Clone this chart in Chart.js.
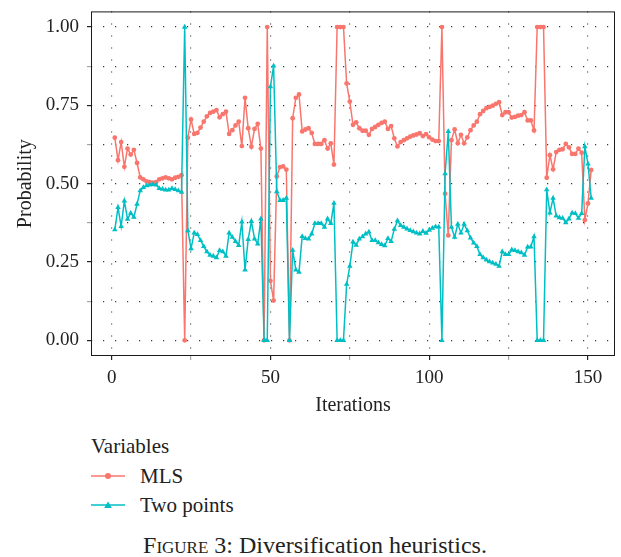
<!DOCTYPE html>
<html>
<head>
<meta charset="utf-8">
<script src="https://cdn.jsdelivr.net/npm/chart.js@4.4.1/dist/chart.umd.min.js"></script>
<style>
  body { margin: 0; background: #fff; }
  #wrap { position: relative; width: 621px; height: 557px; overflow: hidden; font-family: "Liberation Serif", "DejaVu Serif", serif; color: #222; }
  #chart { position: absolute; left: 0; top: -8px; }
  .legend-title { position: absolute; left: 91px; top: 434px; font-size: 21px; line-height: 24px; }
  .legend-row { position: absolute; left: 91px; height: 24px; display: flex; align-items: center; font-size: 21px; }
  .legend-row svg { margin-right: 15px; }
  #caption { position: absolute; left: 0; width: 630px; top: 532px; text-align: center; font-size: 24px; line-height: 26px; }
  .sc { font-variant: small-caps; }
</style>
</head>
<body>
<div id="wrap">
  <canvas id="chart" width="621" height="428"></canvas>
  <div class="legend-title">Variables</div>
  <div class="legend-row" style="top: 464px;">
    <svg width="34" height="10"><line x1="0" y1="5" x2="34" y2="5" stroke="#F8766D" stroke-width="1.6"/><circle cx="17" cy="5" r="3" fill="#F8766D"/></svg>
    <span>MLS</span>
  </div>
  <div class="legend-row" style="top: 493px;">
    <svg width="34" height="10"><line x1="0" y1="5" x2="34" y2="5" stroke="#00BFC4" stroke-width="1.6"/><polygon points="17,1.5 20.8,8 13.2,8" fill="#00BFC4"/></svg>
    <span>Two points</span>
  </div>
  <div id="caption"><span class="sc">Figure</span> 3: Diversification heuristics.</div>
</div>
<script>
// Probability of each heuristic per iteration (iterations 1..151)
const mlsValues = [
  0.647, 0.575, 0.633, 0.554, 0.612, 0.593, 0.608, 0.566, 0.520, 0.514,
  0.507, 0.505, 0.503, 0.505, 0.514, 0.517, 0.520, 0.517, 0.514, 0.519,
  0.522, 0.527, 0.000, 0.647, 0.705, 0.659, 0.662, 0.679, 0.698, 0.715,
  0.726, 0.730, 0.735, 0.712, 0.722, 0.730, 0.659, 0.671, 0.686, 0.698,
  0.620, 0.774, 0.677, 0.618, 0.675, 0.691, 0.612, 0.000, 1.000, 0.190,
  0.127, 0.523, 0.553, 0.555, 0.545, 0.000, 0.709, 0.774, 0.785, 0.667,
  0.673, 0.677, 0.662, 0.627, 0.627, 0.627, 0.639, 0.612, 0.629, 0.561,
  1.000, 1.000, 1.000, 0.820, 0.762, 0.688, 0.696, 0.677, 0.669, 0.669,
  0.656, 0.675, 0.681, 0.688, 0.694, 0.698, 0.675, 0.684, 0.645, 0.619,
  0.633, 0.639, 0.645, 0.650, 0.654, 0.657, 0.661, 0.652, 0.658, 0.648,
  0.641, 0.636, 0.636, 1.000, 0.468, 0.335, 0.639, 0.673, 0.629, 0.656,
  0.629, 0.648, 0.671, 0.686, 0.698, 0.722, 0.732, 0.741, 0.745, 0.749,
  0.755, 0.760, 0.719, 0.728, 0.728, 0.711, 0.713, 0.717, 0.719, 0.728,
  0.702, 0.702, 0.670, 1.000, 1.000, 1.000, 0.519, 0.591, 0.546, 0.601,
  0.608, 0.610, 0.627, 0.616, 0.595, 0.595, 0.612, 0.599, 0.384, 0.437,
  0.544
];

const twoPointValues = [
  0.353, 0.424, 0.364, 0.445, 0.387, 0.406, 0.393, 0.435, 0.478, 0.488,
  0.494, 0.496, 0.498, 0.496, 0.485, 0.483, 0.480, 0.480, 0.485, 0.482,
  0.478, 0.473, 1.000, 0.350, 0.293, 0.343, 0.338, 0.319, 0.300, 0.283,
  0.272, 0.269, 0.264, 0.287, 0.283, 0.269, 0.343, 0.329, 0.316, 0.303,
  0.378, 0.225, 0.322, 0.380, 0.324, 0.308, 0.388, 0.000, 0.000, 0.810,
  0.876, 0.475, 0.447, 0.447, 0.454, 0.000, 0.288, 0.225, 0.218, 0.332,
  0.325, 0.324, 0.340, 0.373, 0.373, 0.373, 0.361, 0.388, 0.373, 0.438,
  0.000, 0.000, 0.000, 0.179, 0.237, 0.314, 0.304, 0.324, 0.331, 0.340,
  0.346, 0.319, 0.319, 0.312, 0.306, 0.302, 0.325, 0.316, 0.355, 0.382,
  0.367, 0.361, 0.356, 0.351, 0.347, 0.343, 0.340, 0.348, 0.342, 0.352,
  0.358, 0.363, 0.362, 0.000, 0.532, 0.667, 0.361, 0.329, 0.371, 0.343,
  0.371, 0.350, 0.327, 0.311, 0.300, 0.274, 0.264, 0.257, 0.251, 0.247,
  0.243, 0.237, 0.283, 0.274, 0.274, 0.289, 0.287, 0.283, 0.280, 0.272,
  0.298, 0.298, 0.331, 0.000, 0.000, 0.000, 0.481, 0.407, 0.454, 0.397,
  0.392, 0.390, 0.376, 0.388, 0.407, 0.405, 0.390, 0.405, 0.618, 0.563,
  0.454
];

// Axis ticks (minor ticks get a grid line but no label)
const xTicks = [0, 25, 50, 75, 100, 125, 150];
const xTickLabels = ['0', '', '50', '', '100', '', '150'];
const yTicks = [0, 0.125, 0.25, 0.375, 0.5, 0.625, 0.75, 0.875, 1];
const yTickLabels = ['0.00', '', '0.25', '', '0.50', '', '0.75', '', '1.00'];

const mlsColor = '#F8766D';
const twoPointColor = '#00BFC4';
const serif = '"Liberation Serif", "DejaVu Serif", serif';

function toPoints(values) {
    return values.map((v, i) => ({ x: i + 1, y: v }));
}

// Draw the black frame round the panel
const panelBorder = {
    id: 'panelBorder',
    afterDraw(chart) {
        const { ctx, chartArea: a } = chart;
        ctx.save();
        ctx.strokeStyle = '#1a1a1a';
        ctx.lineWidth = 1;
        ctx.strokeRect(a.left + 0.5, a.top + 0.5, a.right - a.left - 1, a.bottom - a.top - 1);
        ctx.restore();
    }
};

const gridOpts = {
    color: '#3a3a3a',
    lineWidth: 1.2,
    drawTicks: true,
    tickLength: 4,
    tickColor: (c) => (c.tick && c.tick.label !== '' ? '#222' : 'rgba(0,0,0,0.35)')
};

const ctx = document.getElementById('chart').getContext('2d');
new Chart(ctx, {
    type: 'line',
    data: {
        datasets: [
            {
                label: 'MLS',
                data: toPoints(mlsValues),
                borderColor: mlsColor,
                backgroundColor: mlsColor,
                borderWidth: 1.5,
                pointStyle: 'circle',
                pointRadius: 2.4,
                pointBorderWidth: 0,
                tension: 0,
                order: 2
            },
            {
                label: 'Two points',
                data: toPoints(twoPointValues),
                borderColor: twoPointColor,
                backgroundColor: twoPointColor,
                borderWidth: 1.5,
                pointStyle: 'triangle',
                pointRadius: 3.2,
                pointBorderWidth: 0,
                tension: 0,
                order: 1
            }
        ]
    },
    options: {
        responsive: false,
        animation: false,
        layout: { padding: { top: 8, right: 6, left: 0, bottom: 0 } },
        plugins: {
            legend: { display: false },
            tooltip: { enabled: false }
        },
        scales: {
            x: {
                type: 'linear',
                min: -6.5,
                max: 158.5,
                afterBuildTicks: (scale) => { scale.ticks = xTicks.map(v => ({ value: v })); },
                afterFit: (scale) => { scale.height = 64; },
                grid: gridOpts,
                border: { display: false, dash: [1.2, 10.8] },
                ticks: {
                    autoSkip: false,
                    maxRotation: 0,
                    padding: 7,
                    color: '#222',
                    font: { family: serif, size: 19 },
                    callback: (value, index) => xTickLabels[index]
                },
                title: {
                    display: true,
                    text: 'Iterations',
                    color: '#222',
                    font: { family: serif, size: 20 },
                    padding: { top: 0, bottom: 2 }
                }
            },
            y: {
                type: 'linear',
                min: -0.05,
                max: 1.05,
                afterBuildTicks: (scale) => { scale.ticks = yTicks.map(v => ({ value: v })); },
                afterFit: (scale) => { scale.width = 91; },
                grid: gridOpts,
                border: { display: false, dash: [1.2, 10.8] },
                ticks: {
                    autoSkip: false,
                    padding: 8,
                    color: '#222',
                    font: { family: serif, size: 19 },
                    callback: (value, index) => yTickLabels[index]
                },
                title: {
                    display: true,
                    text: 'Probability',
                    color: '#222',
                    font: { family: serif, size: 20 },
                    padding: { top: 14, bottom: 0 }
                }
            }
        }
    },
    plugins: [panelBorder]
});
</script>
</body>
</html>
